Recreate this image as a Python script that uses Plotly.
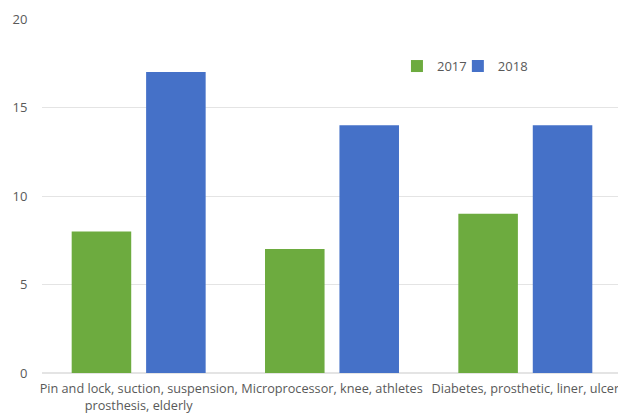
import plotly.graph_objects as go

categories = ["Pin and lock, suction, suspension,<br>prosthesis, elderly",
              "Microprocessor, knee, athletes",
              "Diabetes, prosthetic, liner, ulcer"]
values_2017 = [8, 7, 9]
values_2018 = [17, 14, 14]

fig = go.Figure()
fig.add_trace(go.Bar(name="2017", x=categories, y=values_2017, legend="legend",
                     marker=dict(color="#6dab3f", line=dict(width=0))))
fig.add_trace(go.Bar(name="2018", x=categories, y=values_2018, legend="legend2",
                     marker=dict(color="#4571c8", line=dict(width=0))))

leg_common = dict(orientation="h", y=0.867, xanchor="left", yanchor="middle",
                  font=dict(size=13, color="#595959"), itemwidth=30,
                  bgcolor="rgba(0,0,0,0)")

fig.update_layout(
    width=626, height=416,
    margin=dict(l=34, r=12, t=11, b=51),
    paper_bgcolor="white", plot_bgcolor="white",
    barmode="group", bargap=0.23, bargroupgap=0.2,
    font=dict(family="Open Sans", size=12.5, color="#595959"),
    showlegend=True,
    legend=dict(x=0.612, **leg_common),
    legend2=dict(x=0.717, **leg_common),
)
fig.update_yaxes(range=[0, 20], dtick=5, showgrid=True, gridcolor="#e4e4e4",
                 zeroline=True, zerolinecolor="#e4e4e4", showline=False,
                 ticks="outside", ticklen=11, tickcolor="rgba(0,0,0,0)",
                 tickfont=dict(size=13, color="#595959"), automargin=False)
fig.update_xaxes(showgrid=False, showline=False,
                 ticks="outside", ticklen=4, tickcolor="rgba(0,0,0,0)",
                 tickfont=dict(size=12.7, color="#595959"), automargin=False)

fig.write_html("out.html")
